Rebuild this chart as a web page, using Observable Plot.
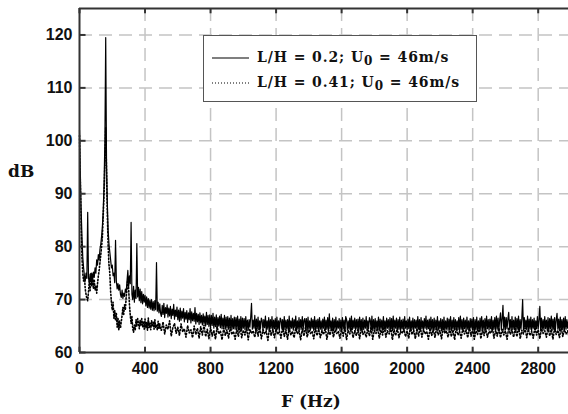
<!DOCTYPE html>
<html>
<head>
<meta charset="utf-8">
<script src="https://cdn.jsdelivr.net/npm/d3@7"></script>
<script src="https://cdn.jsdelivr.net/npm/@observablehq/plot@0.6"></script>
<style>
  html, body { margin: 0; padding: 0; background: white; }
  #wrap { position: relative; width: 568px; height: 414px; overflow: hidden; }
  .ttl { position: absolute; font-family: "DejaVu Serif", serif; font-weight: bold; color: #111; white-space: nowrap; }
  #legend { position: absolute; left: 203px; top: 35px; width: 274px; height: 67px; border: 1px solid #555; background: white; box-sizing: border-box; }
  .row { position: absolute; left: 0; height: 20px; font-family: "DejaVu Serif", serif; font-weight: bold; font-size: 14px; letter-spacing: 0.9px; color: #111; white-space: nowrap; }
  .row svg { position: absolute; left: 8px; top: 0; }
  .row span.t { position: absolute; left: 53px; top: 0; line-height: 20px; }
  sub { font-size: 12px; vertical-align: -3px; line-height: 0; }
</style>
</head>
<body>
<div id="wrap"></div>
<script>
// Axis ticks
const xTicks = [0, 400, 800, 1200, 1600, 2000, 2400, 2800];
const yTicks = [60, 70, 80, 90, 100, 110, 120];

// Sampling grids of the spectra (Hz)
const lowStep = 5;          // 0 .. 495 Hz
const highStart = 500;
const solidHighStep = 5;    // 500 .. 2995 Hz
const dottedHighStep = 10;  // 500 .. 2990 Hz

// L/H = 0.2 (solid), 0-495 Hz
const solidLow = [102,94,87,82,78,76,74.5,73.5,75,74,
86.5,74,73.2,74.8,73.5,75,73.8,75.2,74.2,76,
75,77.5,76.5,78.5,77.5,79.5,80.5,82,84,87,
92,100,119.5,96,88,83,80.5,79,77.5,76,
76.5,74.5,75,73.2,81.2,73.5,72,73,71.8,72.8,
71,70.4,71.8,70.2,71.2,70.6,72,71.4,73.5,75.5,
72.5,74.5,73,84.6,71,70,72.5,69.5,71.8,70.2,
80.6,70.5,72.3,69.8,72,69.4,71.5,69.2,71,69.5,
70.8,68.8,70.5,68.5,70.2,68.4,69.9,68.2,70,68,
69.6,67.9,69.8,68.1,77,67.8,69.5,67.5,69.2,67.4];

// L/H = 0.2 (solid), 500-2995 Hz
const solidHigh = [66.8,68.9,67.2,69.3,66.6,68.5,67.4,69,66.7,68.4,
66.9,68.7,66.4,68.2,67,69.1,66.3,68,66.8,68.6,
66.2,68,65.9,68.4,66.1,67.8,66.5,68.3,65.8,67.6,
66.3,67.9,65.7,67.5,66.2,68.3,65.6,67.7,66,67.4,
65.9,68.5,65.4,67.4,65.8,67.2,65.3,67.5,65.6,67,
65.2,67.3,65.5,66.9,65,67.6,65.3,67,64.9,67.1,
64.8,67,65.1,67.4,64.6,66.7,64.9,67.1,64.5,66.6,
65,66.9,64.7,67.2,64.5,66.5,64.8,67,64.4,66.7,
64.6,66.8,64.4,66.5,64.7,67,64.3,66.4,64.5,66.7,
64.4,66.6,64.6,66.9,64.2,66.3,64.5,66.8,64.1,66.5,
64.6,66.4,64.3,66.8,64.5,66.1,64.2,66.2,64.8,66.6,
69.3,64.4,66.1,64.6,67,64.1,66.3,64.5,66.7,64.3,
66,64.6,66.5,66.1,64.2,66.2,64.7,66.9,64.1,66,
64.4,66.6,64.3,66.2,64.6,66.8,64.2,66.1,64.5,66.4,
64,66.7,64.4,66,64.2,66.5,66.2,64.6,66.2,64.1,
66.8,64.3,66.1,64.5,66.2,64.1,66.9,64.4,66,64.6,
66.5,64.2,66.2,64.7,66.9,64.1,66,64.4,66.6,64.3,
66.2,64.6,66.8,64.2,66.1,66.4,64.5,66.4,64,66.7,
64.4,66,64.2,66.5,64.6,66.2,64.1,66.8,64.3,66.1,
64.5,66.3,64.2,66.6,64.4,66,64.1,66.3,64.6,66.7,
64.2,66.1,64.4,66.6,64,67.3,64.5,66,64.3,66.5,
64.1,66.2,64.4,66.7,64.2,66,64.6,66.4,64.1,66.1,
64.3,66.6,64.5,66.1,64,66.8,66.3,64.2,66,64.4,
66.5,64.1,66.9,64.3,66.1,64.6,66.5,64.2,66.2,64.5,
66.3,64.1,66.7,64.4,66.2,64,66.5,64.3,66.1,64.6,
66.8,64.2,66,64.5,66.6,66.1,64.3,66.9,64.1,66.2,
64.4,66.4,64.2,66,64.6,66.7,64.1,66.3,64.5,66.1,
64.2,66.8,64.4,66,64.1,66.5,64.6,66.2,64.3,66.6,
64.5,66.4,64.1,66.9,64.3,66.1,64.6,66.5,64.2,66.2,
64.4,66.7,64,66.1,64.5,66.3,64.2,66.8,64.6,66,
64.3,66.3,64.5,66.7,64.1,66,64.4,66.5,64.2,66.2,
64.6,66.1,64.2,66.8,64.4,66.2,64.1,66.6,64.5,66,
64.2,66.4,64.6,66.9,64.3,66.1,64.5,66.3,64.1,66.7,
64.4,66.2,64,66.5,64.3,66.1,64.6,66.8,64.2,66,
64.5,66.4,64.1,66.2,64.3,66.7,64.1,66,64.4,66.5,
64.2,66.3,64.5,66.8,64.1,66.1,64.4,66.6,64.2,66.2,
64.6,66,64.3,66.6,64.1,66.9,64.4,66.2,64.2,66.5,
64.5,66.1,64.2,66.7,64.4,66,64.1,66.4,64.6,66.3,
64.3,66.6,63.5,66.2,64.3,66.7,64.1,66,64.4,66.5,
64.2,66.8,64.5,66.1,64.1,66.4,64.3,66.9,64.5,66.2,
64.2,66.3,64.5,66.8,64.1,66.1,64.4,66.6,64.2,66.9,
64.4,66.5,64.1,66.2,67.5,64.3,66.4,68.9,64.2,66.7,
64.3,66.6,64.5,66.3,67.6,64.5,66.2,64.1,66.8,64.4,
66.1,64.3,66.7,64.2,66.4,64.6,66.9,64.1,66.2,64.4,
66.4,70,64.2,66.6,64.5,66.1,64.3,66.9,64.2,66.3,
64.4,66.7,64.1,66.2,64.6,66.5,64.3,66,64.5,66.8,
64.5,66.2,68.7,64.1,66.5,64.4,66.2,64.2,66.8,64.5,
66.1,64.3,66.6,64.1,66.4,64.5,66.9,64.2,66.3,64.4,
66.6,64.2,66.2,67.4,64.4,66.3,64.1,66.7,64.5,66.2,
64.3,66.5,64.1,66.8,64.4,66.2,64.6,66,64.2,66.4];

// L/H = 0.41 (dotted), 0-495 Hz
const dottedLow = [101,92,84,78,75,73.5,74.5,72,71,70.2,
69.8,71.5,73.5,71.7,75,72.5,74.5,72,73.8,71.8,
72.5,71.2,73,74.5,75.5,77,78.5,80,82,86,
90,96,102.5,94,86,80,76.5,75,71.5,69.5,
68,69.5,66.5,68,66,67.4,64.8,66.5,64.2,66,
64.6,65.8,67,68.5,67.2,69,68,70.5,72,74,
72,69,67,65.5,66.8,64.5,63.8,65.2,64.2,66.2,
65,66.4,65.5,64.5,66.1,65.2,66.4,64.8,65.9,64.4,
66.3,64.6,65.8,64.2,66.5,64.7,65.5,64.3,66,64.9,
65.7,64.4,66.2,64.6,65.3,64.2,65.9,64.5,65.4,64.3];

// L/H = 0.41 (dotted), 500-2990 Hz
const dottedHigh = [64.2,65.8,63.5,65.2,64.4,66,63.1,64.7,65.5,63.6,
64.8,63.2,65.4,63.9,64.5,62.9,65.1,63.7,64.3,62.8,
65,63.4,64.6,62.7,64.9,63.3,65.2,63,64.4,62.6,
64.7,63.1,64.2,62.5,64.9,63.5,64.1,62.4,64.6,63.2,
64.3,62.7,64.8,63.4,64,62.5,64.5,63,64.9,62.8,
64.2,63.3,64.7,62.4,64.4,63.6,64.1,62.9,64.6,63.1,
64.8,62.6,64.3,63.5,64,62.3,64.7,63.2,64.4,62.8,
64.5,63.4,64.1,62.7,64.9,63,64.3,62.5,64.6,63.3,
64,62.8,64.7,63.5,64.2,62.4,64.5,63.1,64.8,62.9,
64.3,63.6,64,62.6,64.6,63.2,64.4,62.8,64.1,63.4,
64.7,62.5,64.2,63.3,64.9,62.9,64.3,63.6,64,62.7,
64.5,63.1,64.8,62.4,64.2,63.5,64.6,62.8,64.1,63.2,
64.4,62.6,64.7,63.4,64,62.9,64.5,63.1,64.8,62.5,
64.2,63.6,64.6,62.7,64.3,63.3,64.9,62.9,64.1,63.5,
64.7,62.4,64.3,63.2,64.6,62.8,64,63.6,64.5,63,
64.1,62.7,64.8,63.4,64.2,62.6,64.5,63.1,64.9,62.9,
64.3,63.5,64,62.5,64.6,63.2,64.4,62.8,64.7,63.3,
64.2,62.6,64.8,63.6,64.1,62.9,64.5,63,64.3,62.4,
64.7,63.3,64,62.7,64.6,63.5,64.2,62.8,64.9,63.1,
64.4,62.5,64.1,63.4,64.7,62.6,64.3,63.2,64.5,62.9,
64,63.6,64.8,62.7,64.2,63.1,64.6,62.8,64.4,63.3,
64.1,62.5,64.7,63.4,64.3,62.9,64.5,63,64.9,62.6,
64.2,63.5,64.6,62.8,64.4,63.2,64,62.7,64.8,63.3,
64.3,62.6,64.5,63.6,64.1,62.9,64.7,63.1,64.4,62.5,
64.6,63.4,64.2,62.8,64.9,63,64.3,63.5,64.1,62.7];

const series = (low, high, step) => [
  ...low.map((v, i) => ({F: i * lowStep, dB: v})),
  ...high.map((v, i) => ({F: highStart + i * step, dB: v}))
];
const solid = series(solidLow, solidHigh, solidHighStep);
const dotted = series(dottedLow, dottedHigh, dottedHighStep);

const frameColor = "#333";
const gridStyle = {stroke: "#c4c4c4", strokeOpacity: 1, strokeWidth: 1.5, strokeDasharray: "13,7"};

const chart = Plot.plot({
  width: 568,
  height: 414,
  marginLeft: 79,
  marginRight: 0,
  marginTop: 8,
  marginBottom: 62,
  x: {domain: [0, 2985]},
  y: {domain: [60, 125]},
  style: {fontFamily: "'Liberation Sans', Arial, sans-serif", fontWeight: "bold", fontSize: "16px", color: "#111", background: "white", overflow: "visible"},
  marks: [
    Plot.gridX(xTicks.filter(t => t > 0), gridStyle),
    Plot.gridY(yTicks.filter(t => t > 60), gridStyle),
    Plot.line(dotted, {x: "F", y: "dB", stroke: "black", strokeWidth: 1.6, strokeDasharray: "1.3,2"}),
    Plot.line(solid, {x: "F", y: "dB", stroke: "black", strokeWidth: 1.2}),
    Plot.ruleX(xTicks, {y1: 60, y2: 61, stroke: frameColor, strokeWidth: 2}),
    Plot.ruleX(xTicks, {y1: 125, y2: 124, stroke: frameColor, strokeWidth: 2}),
    Plot.ruleY(yTicks, {x1: 0, x2: 40, stroke: frameColor, strokeWidth: 2}),
    Plot.ruleY([60, 125], {stroke: frameColor, strokeWidth: 2}),
    Plot.ruleX([0], {stroke: frameColor, strokeWidth: 2}),
    Plot.axisX(xTicks, {tickSize: 0, tickPadding: 10, label: null, tickFormat: d => String(d)}),
    Plot.axisY(yTicks, {tickSize: 0, tickPadding: 7, label: null, tickFormat: d => String(d)})
  ]
});

const wrap = document.getElementById("wrap");
wrap.appendChild(chart);

// Axis titles
const yT = document.createElement("div");
yT.className = "ttl";
yT.style.cssText = "left:8px; top:161px; font-size:17px;";
yT.textContent = "dB";
wrap.appendChild(yT);

const xT = document.createElement("div");
xT.className = "ttl";
xT.style.cssText = "left:281px; top:391px; font-size:17px;";
xT.textContent = "F (Hz)";
wrap.appendChild(xT);

// Legend
const legendItems = [
  {dash: null, lh: "0.2"},
  {dash: "1,2", lh: "0.41"}
];
const leg = document.createElement("div");
leg.id = "legend";
legendItems.forEach((it, i) => {
  const row = document.createElement("div");
  row.className = "row";
  row.style.top = (11 + i * 25) + "px";
  row.innerHTML =
    `<svg width="40" height="20"><line x1="0" x2="37" y1="11" y2="11" stroke="black" stroke-width="1.2" ${it.dash ? `stroke-dasharray="${it.dash}"` : ""}/></svg>` +
    `<span class="t">L/H = ${it.lh}; U<sub>0</sub> = 46m/s</span>`;
  leg.appendChild(row);
});
wrap.appendChild(leg);
</script>
</body>
</html>
